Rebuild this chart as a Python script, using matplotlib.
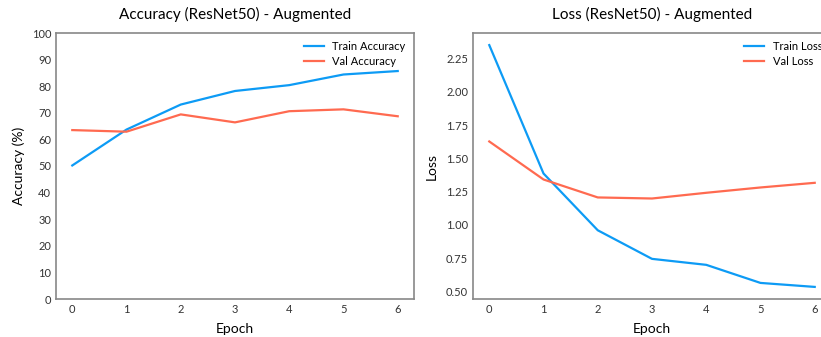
import matplotlib
matplotlib.use("Agg")
import matplotlib.pyplot as plt

plt.rcParams['font.family'] = ['Lato', 'DejaVu Sans']

epochs = [0, 1, 2, 3, 4, 5, 6]
train_acc = [50.2, 63.7, 73.1, 78.2, 80.4, 84.4, 85.7]
val_acc = [63.5, 62.9, 69.4, 66.4, 70.6, 71.3, 68.7]
train_loss = [2.352, 1.386, 0.959, 0.744, 0.699, 0.563, 0.533]
val_loss = [1.627, 1.341, 1.206, 1.198, 1.241, 1.281, 1.316]

blue = "#0d9bf5"
red = "#ff6a50"

fig = plt.figure(figsize=(8.21, 3.37), dpi=100)
ax1 = fig.add_axes([56/821, 38/337, 358/821, 266/337])
ax2 = fig.add_axes([473/821, 38/337, 358/821, 266/337])


def style(ax):
    for s in ax.spines.values():
        s.set_color("#888888")
        s.set_linewidth(1.2)
    ax.tick_params(length=0, labelsize=8, colors="#333333", pad=3.5)
    ax.set_xticks(epochs)


ax1.plot(epochs, train_acc, color=blue, lw=1.6, label="Train Accuracy")
ax1.plot(epochs, val_acc, color=red, lw=1.6, label="Val Accuracy")
ax1.set_ylim(0, 100)
ax1.set_yticks(range(0, 101, 10))
ax1.set_title("Accuracy (ResNet50) - Augmented", fontsize=11, pad=10)
ax1.set_xlabel("Epoch", fontsize=10, labelpad=6)
ax1.set_ylabel("Accuracy (%)", fontsize=10, labelpad=5)
ax1.legend(frameon=False, fontsize=8, loc="upper right",
           handlelength=1.8, labelspacing=0.3, borderaxespad=0.35)
style(ax1)

ax2.plot(epochs, train_loss, color=blue, lw=1.6, label="Train Loss")
ax2.plot(epochs, val_loss, color=red, lw=1.6, label="Val Loss")
ax2.set_yticks([0.5, 0.75, 1.0, 1.25, 1.5, 1.75, 2.0, 2.25])
ax2.set_title("Loss (ResNet50) - Augmented", fontsize=11, pad=10)
ax2.set_xlabel("Epoch", fontsize=10, labelpad=6)
ax2.set_ylabel("Loss", fontsize=10, labelpad=6)
ax2.legend(frameon=False, fontsize=8, loc="upper right",
           handlelength=1.8, labelspacing=0.3, borderaxespad=0.35)
style(ax2)

fig.savefig("out.png", dpi=100)
